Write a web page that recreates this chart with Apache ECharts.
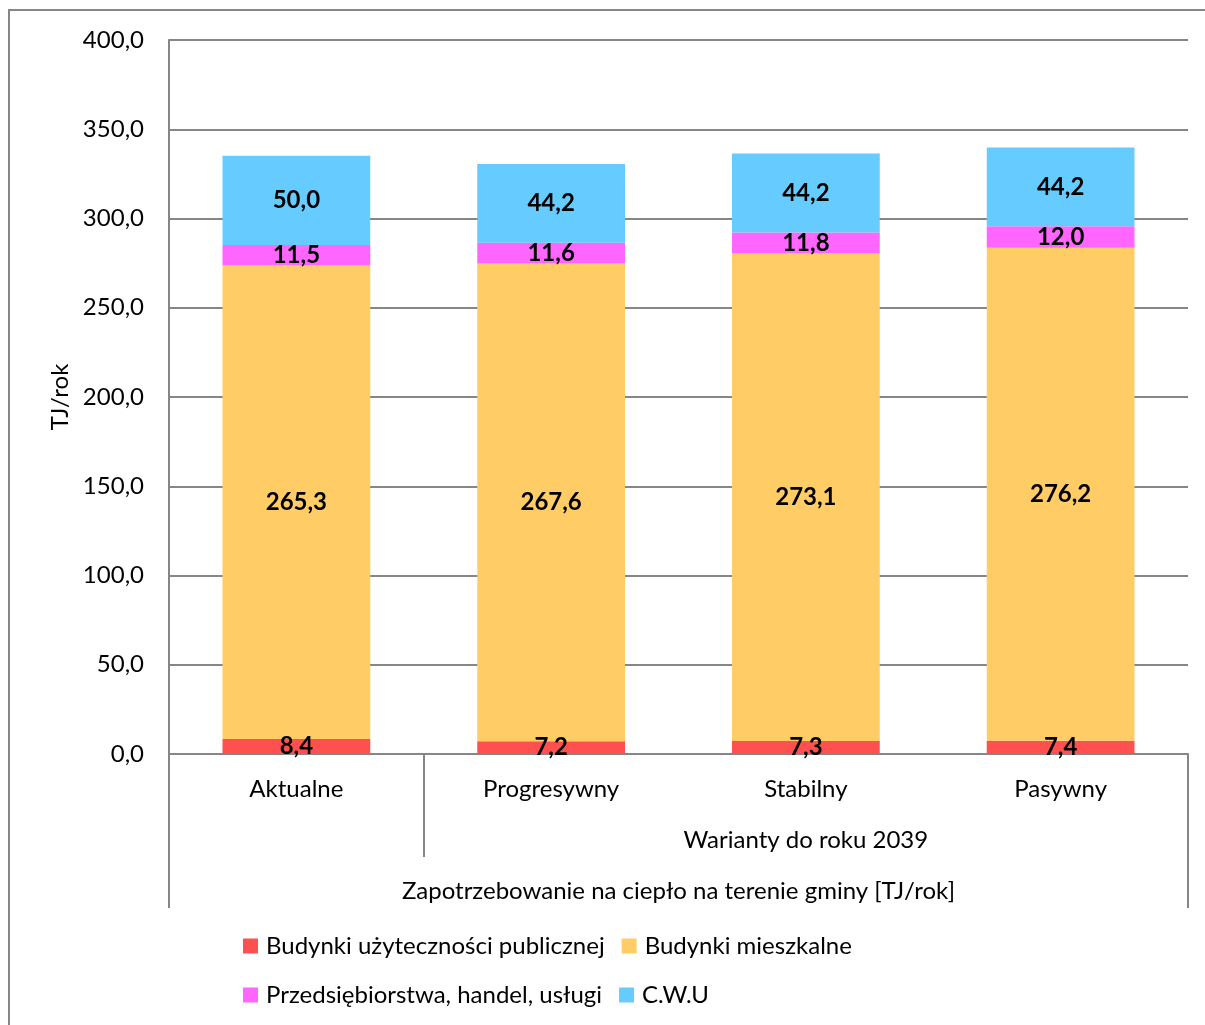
<!DOCTYPE html>
<html>
<head>
<meta charset="utf-8">
<script src="https://cdn.jsdelivr.net/npm/echarts@6/dist/echarts.min.js"></script>
<style>
  html, body { margin: 0; padding: 0; background: #fff; }
  #chart { width: 1205px; height: 1025px; }
</style>
</head>
<body>
<div id="chart"></div>
<script>
// Heat demand per scenario [TJ/rok]
const categories = ['Aktualne', 'Progresywny', 'Stabilny', 'Pasywny'];
const seriesNames = ['Budynki użyteczności publicznej', 'Budynki mieszkalne', 'Przedsiębiorstwa, handel, usługi', 'C.W.U'];
const publiczne = [8.4, 7.2, 7.3, 7.4];
const mieszkalne = [265.3, 267.6, 273.1, 276.2];
const przedsiebiorstwa = [11.5, 11.6, 11.8, 12.0];
const cwu = [50.0, 44.2, 44.2, 44.2];
const seriesColors = ['#FF5050', '#FFCC66', '#FF66FF', '#66CCFF'];
const yTicks = { min: 0, max: 400, interval: 50 };
const groupLabel = 'Warianty do roku 2039';
const outerLabel = 'Zapotrzebowanie na ciepło na terenie gminy [TJ/rok]';
const yAxisName = 'TJ/rok';

const FONT = 'Lato';
const FS = 24;
const GRAY = '#868686';
const fmt = v => v.toFixed(1).replace('.', ',');

const values = [publiczne, mieszkalne, przedsiebiorstwa, cwu];

const series = values.map((data, i) => ({
  name: seriesNames[i],
  type: 'bar',
  stack: 'total',
  data: data,
  barCategoryGap: '42%',
  itemStyle: { color: seriesColors[i] },
  label: {
    show: true,
    position: 'inside',
    formatter: p => fmt(p.value),
    color: '#000',
    fontFamily: FONT,
    fontWeight: 'bold',
    fontSize: FS
  }
}));

const legendText = { color: '#000', fontFamily: FONT, fontSize: FS, padding: [0, 0, 0, 3] };

const chart = echarts.init(document.getElementById('chart'), null, { renderer: 'canvas' });

chart.setOption({
  animation: false,
  backgroundColor: '#fff',
  textStyle: { fontFamily: FONT },
  grid: { left: 169, right: 17, top: 40, bottom: 271, containLabel: false },
  xAxis: [
    {
      type: 'category',
      data: categories,
      axisLine: { show: true, lineStyle: { color: GRAY, width: 2 } },
      axisTick: { show: false },
      axisLabel: { color: '#000', fontFamily: FONT, fontSize: FS, margin: 23 }
    },
    {
      // second level: split between current state and scenarios
      type: 'value', min: 0, max: categories.length, position: 'bottom',
      axisLine: { show: false },
      splitLine: { show: false },
      axisTick: { show: true, customValues: [1], length: 103, lineStyle: { color: GRAY, width: 2 } },
      axisLabel: {
        customValues: [2.5], formatter: () => groupLabel,
        color: '#000', fontFamily: FONT, fontSize: FS, margin: 74
      }
    },
    {
      // third level: whole chart caption
      type: 'value', min: 0, max: categories.length, position: 'bottom',
      axisLine: { show: false },
      splitLine: { show: false },
      axisTick: { show: true, customValues: [0, categories.length], length: 154, lineStyle: { color: GRAY, width: 2 } },
      axisLabel: {
        customValues: [2], formatter: () => outerLabel,
        color: '#000', fontFamily: FONT, fontSize: FS, margin: 125
      }
    }
  ],
  yAxis: {
    type: 'value',
    min: yTicks.min, max: yTicks.max, interval: yTicks.interval,
    name: yAxisName,
    nameLocation: 'middle',
    nameRotate: 90,
    nameGap: 97,
    nameTextStyle: { color: '#000', fontFamily: FONT, fontSize: FS },
    axisLine: { show: true, lineStyle: { color: GRAY, width: 2 } },
    axisTick: { show: false },
    splitLine: { show: true, lineStyle: { color: GRAY, width: 2 } },
    axisLabel: { color: '#000', fontFamily: FONT, fontSize: FS, margin: 25, formatter: v => fmt(v) }
  },
  legend: [
    {
      data: seriesNames.slice(0, 2),
      left: 238, top: 929,
      icon: 'rect', itemWidth: 15, itemHeight: 15, itemGap: 17,
      textStyle: legendText,
      selectedMode: false
    },
    {
      data: seriesNames.slice(2, 4),
      left: 238, top: 978,
      icon: 'rect', itemWidth: 15, itemHeight: 15, itemGap: 17,
      textStyle: legendText,
      selectedMode: false
    }
  ],
  graphic: [
    {
      // chart area frame
      type: 'rect', silent: true, z: -1,
      shape: { x: 9, y: 10, width: 1400, height: 1200 },
      style: { fill: 'none', stroke: GRAY, lineWidth: 2 }
    }
  ],
  series: series
});
</script>
</body>
</html>
